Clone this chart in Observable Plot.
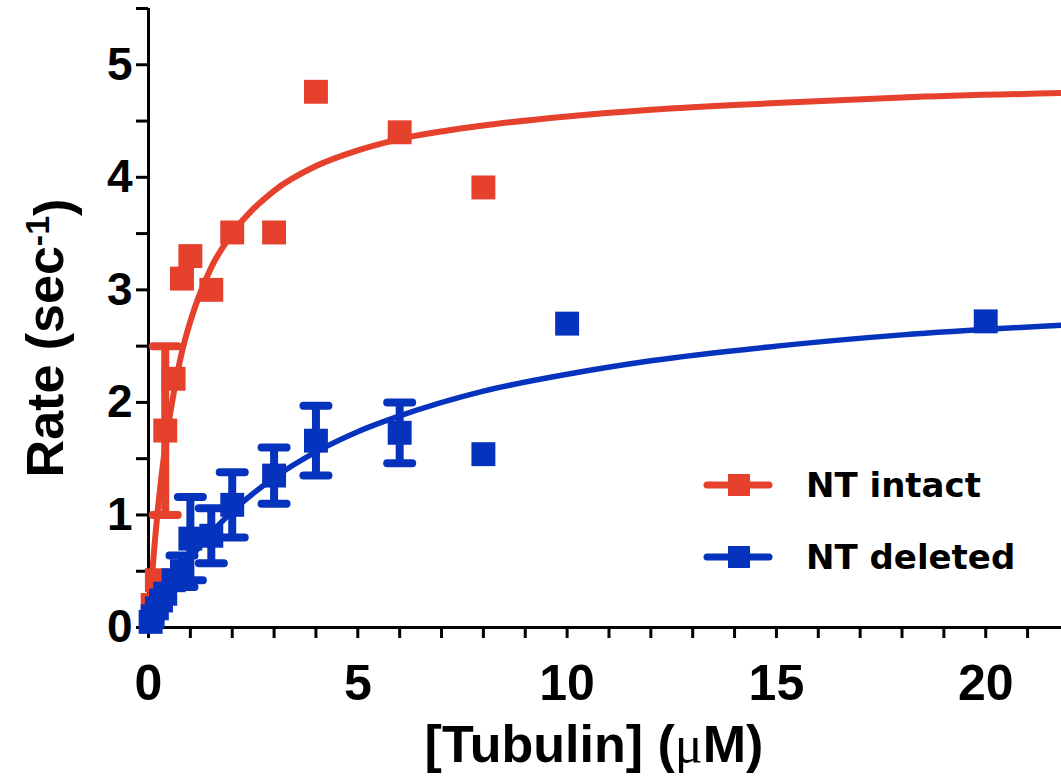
<!DOCTYPE html>
<html><head><meta charset="utf-8">
<script src="https://cdn.jsdelivr.net/npm/d3@7"></script>
<script src="https://cdn.jsdelivr.net/npm/@observablehq/plot@0.6"></script>
<style>
body{margin:0;background:#fff;}
#wrap{position:relative;width:1061px;height:776px;overflow:hidden;}
#legend{position:absolute;left:0;top:0;}
</style></head><body><div id="wrap"></div>
<script>
// ---- data ----
const seriesNames = ["NT intact", "NT deleted"];
const seriesColors = ["#E5412D", "#0633BD"];

const intactX   = [0.1, 0.2, 0.4, 0.6, 0.8, 1.0, 1.5, 2.0, 3.0, 4.0, 6.0, 8.0];
const intactY   = [0.2, 0.42, 1.75, 2.21, 3.10, 3.30, 3.00, 3.51, 3.51, 4.76, 4.40, 3.91];
const intactErr = [null, null, 0.75, null, null, null, null, null, null, null, null, null];

const deletedX   = [0.05, 0.1, 0.2, 0.3, 0.4, 0.6, 0.8, 1.0, 1.5, 2.0, 3.0, 4.0, 6.0, 8.0, 10, 20];
const deletedY   = [0.05, 0.1, 0.17, 0.24, 0.3, 0.42, 0.5, 0.79, 0.815, 1.09, 1.35, 1.66, 1.73, 1.54, 2.70, 2.72];
const deletedErr = [null, null, null, null, null, null, 0.14, 0.37, 0.245, 0.29, 0.25, 0.31, 0.27, null, null, null];

// fitted curves
const intactFitX = [0, 0.1, 0.2, 0.3, 0.4, 0.6, 0.8, 1, 1.5, 2, 3, 4, 5, 6, 8, 10, 12, 15, 18, 22];
const intactFitY = [0, 0.53, 0.96, 1.31, 1.61, 2.08, 2.45, 2.72, 3.2, 3.5, 3.88, 4.1, 4.24, 4.34, 4.46, 4.54, 4.6, 4.66, 4.71, 4.75];
const deletedFitX = [0, 0.2, 0.5, 1, 1.5, 2, 3, 4, 5, 6, 8, 10, 12, 15, 18, 22];
const deletedFitY = [0, 0.145, 0.34, 0.615, 0.84, 1.03, 1.33, 1.56, 1.74, 1.88, 2.1, 2.25, 2.37, 2.5, 2.6, 2.69];

const xTicks = d3.range(0, 22, 1);
const yTicks = d3.range(0, 5.51, 0.5);
const xTickLabels = [0, 5, 10, 15, 20];
const yTickLabels = [0, 1, 2, 3, 4, 5];

// ---- build tables ----
const toRows = (xs, ys, es) => xs.map((x, i) => ({x, y: ys[i], err: es ? es[i] : null}));
const intact = toRows(intactX, intactY, intactErr);
const deleted = toRows(deletedX, deletedY, deletedErr);
const intactFit = toRows(intactFitX, intactFitY);
const deletedFit = toRows(deletedFitX, deletedFitY);

const capSymbol = {draw(ctx, size) { const w = Math.sqrt(size) / 2; ctx.moveTo(-w, 0); ctx.lineTo(w, 0); }};
const SQ_R = 13.5;   // square side ≈ 24px
const CAP_R = 14.1;

function seriesMarks(rows, fit, color, lw) {
  const e = rows.filter(d => d.err != null);
  return [
    Plot.line(fit, {x: "x", y: "y", stroke: color, strokeWidth: lw, curve: "monotone-x"}),
    Plot.ruleX(e, {x: "x", y1: d => d.y - d.err, y2: d => d.y + d.err, stroke: color, strokeWidth: 8}),
    Plot.dot(e, {x: "x", y: d => d.y + d.err, symbol: capSymbol, r: CAP_R, stroke: color, strokeWidth: 8, strokeLinecap: "round", fill: "none"}),
    Plot.dot(e, {x: "x", y: d => d.y - d.err, symbol: capSymbol, r: CAP_R, stroke: color, strokeWidth: 8, strokeLinecap: "round", fill: "none"}),
    Plot.dot(rows, {x: "x", y: "y", symbol: "square", r: SQ_R, fill: color, stroke: "none"})
  ];
}

const plot = Plot.plot({
  width: 1061, height: 776,
  marginLeft: 148, marginRight: 0, marginTop: 8, marginBottom: 149,
  x: {domain: [0, 21.81]},
  y: {domain: [0, 5.5]},
  style: {background: "white", color: "black"},
  marks: [
    Plot.axisX({ticks: xTicks, tickSize: 11, strokeWidth: 3, tickPadding: 26,
      tickFormat: d => xTickLabels.includes(d) ? String(d) : "",
      fontSize: 50, fontWeight: "bold", fontFamily: "'Liberation Sans Narrow', 'Liberation Sans', Arial, sans-serif", label: null}),
    Plot.axisY({ticks: yTicks, tickSize: 12, strokeWidth: 3, tickPadding: 4,
      tickFormat: d => yTickLabels.includes(d) ? String(d) : "",
      fontSize: 46, fontWeight: "bold", fontFamily: "'Liberation Sans', Arial, sans-serif", label: null}),
    Plot.ruleY([0], {strokeWidth: 3}),
    Plot.ruleX([0], {strokeWidth: 3}),
    ...seriesMarks(intact, intactFit, seriesColors[0], 6),
    ...seriesMarks(deleted, deletedFit, seriesColors[1], 5.5)
  ]
});

const wrap = document.getElementById("wrap");
wrap.appendChild(plot);

// axis titles as real text
const svg = d3.select(plot);
const yl = svg.append("text")
  .attr("transform", "translate(63,338) rotate(-90)")
  .attr("text-anchor", "middle")
  .style("font", "bold 52px 'Liberation Sans', Arial, sans-serif")
  .attr("fill", "black");
yl.append("tspan").text("Rate (sec");
yl.append("tspan").attr("dy", "-0.42em").style("font-size", "34px").text("-1");
yl.append("tspan").attr("dy", "0.42em").text(")");

const xl = svg.append("text")
  .attr("x", 594).attr("y", 762)
  .attr("text-anchor", "middle")
  .style("font", "bold 52px 'Liberation Sans', Arial, sans-serif")
  .attr("fill", "black");
xl.append("tspan").text("[Tubulin] (");
xl.append("tspan").style("font-weight", "normal").style("font-family", "'Liberation Serif', 'DejaVu Serif', serif").text("\u03bc");
xl.append("tspan").text("M)");

// legend overlay
const leg = d3.select(wrap).append("svg").attr("id", "legend").attr("width", 1061).attr("height", 776);
seriesNames.forEach((name, i) => {
  const cy = 485 + i * 72;
  const g = leg.append("g");
  g.append("line").attr("x1", 707).attr("x2", 769).attr("y1", cy).attr("y2", cy)
    .attr("stroke", seriesColors[i]).attr("stroke-width", 7).attr("stroke-linecap", "round");
  g.append("rect").attr("x", 728).attr("y", cy - 11).attr("width", 22).attr("height", 22).attr("fill", seriesColors[i]);
  g.append("text").attr("x", 806).attr("y", cy + 12)
    .style("font", "bold 34px 'DejaVu Sans', sans-serif").attr("fill", "black").text(name);
});
</script></body></html>
